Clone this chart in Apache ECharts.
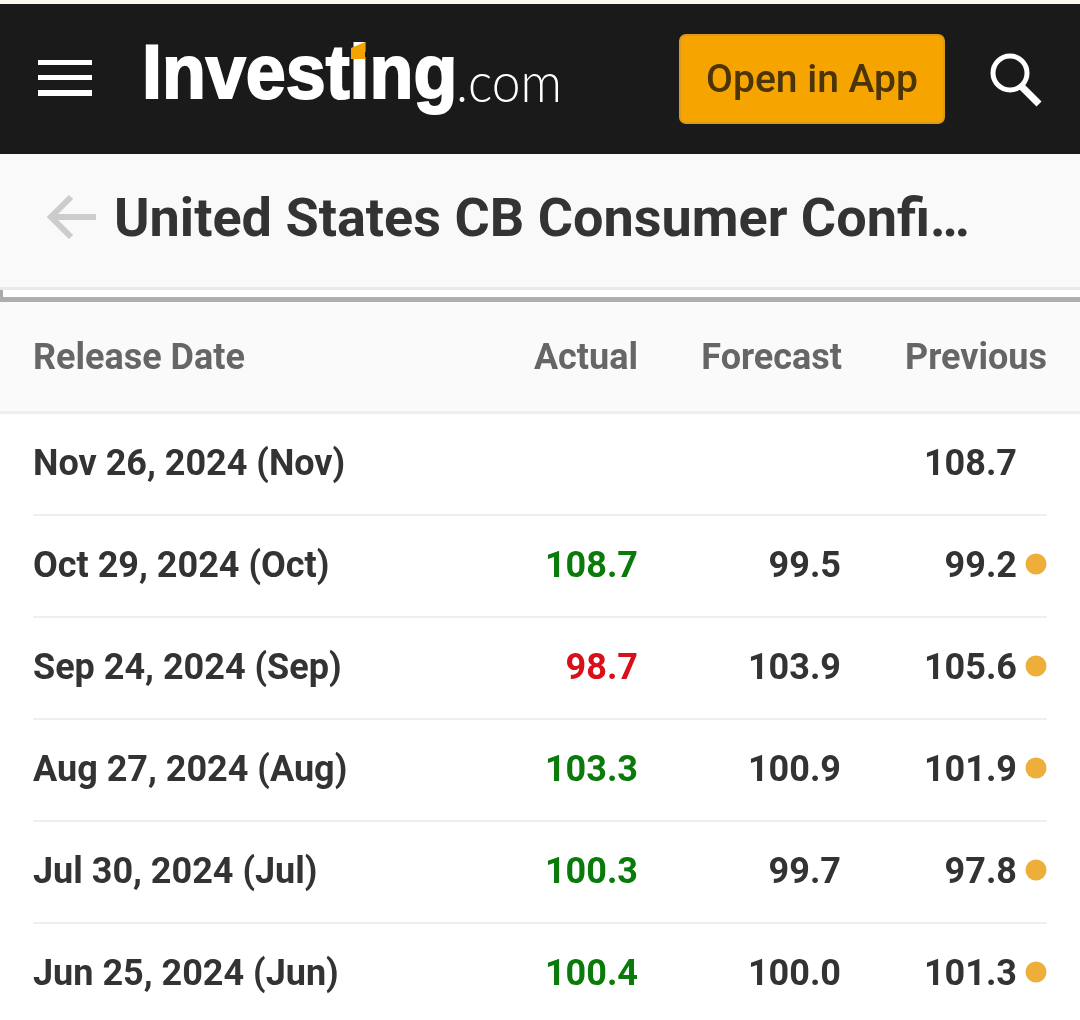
<!DOCTYPE html>
<html>
<head>
    <meta charset="utf-8" />
    <script src="https://cdn.jsdelivr.net/npm/echarts@6/dist/echarts.min.js"></script>
    <style>
        body { margin: 0; overflow: hidden; background: #fff; }
        #main { width: 1080px; height: 1020px; }
    </style>
</head>
<body>
    <div id="main"></div>
    <script type="text/javascript">
        var pageTitle = 'United States CB Consumer Confi…';
        var columnNames = ['Release Date', 'Actual', 'Forecast', 'Previous'];
        var releaseDates = ['Nov 26, 2024 (Nov)', 'Oct 29, 2024 (Oct)', 'Sep 24, 2024 (Sep)', 'Aug 27, 2024 (Aug)', 'Jul 30, 2024 (Jul)', 'Jun 25, 2024 (Jun)'];
        var actual = [null, 108.7, 98.7, 103.3, 100.3, 100.4];
        var forecast = [null, 99.5, 103.9, 100.9, 99.7, 100.0];
        var previous = [108.7, 99.2, 105.6, 101.9, 97.8, 101.3];
        var revised = [false, true, true, true, true, true];

        var FONT = 'Roboto';
        var GREEN = '#0a7a0a', RED = '#d9101a', DARK = '#333333', GREY = '#666666';

        // x axis runs in page pixels minus the grid's left edge
        var GRID_LEFT = 33;
        var COL_DATE = 0, COL_ACTUAL = 605, COL_FORECAST = 808, COL_PREVIOUS = 984, COL_DOT = 1003;

        function cellData(column, x, colorFn) {
            var cells = [];
            column.forEach(function (v, i) {
                if (v === null) return;
                cells.push({ value: [x, i], raw: v, label: { color: colorFn ? colorFn(i) : DARK } });
            });
            return cells;
        }

        function textSeries(column, x, align, fmt, colorFn) {
            return {
                type: 'scatter',
                symbolSize: 0,
                silent: true,
                clip: false,
                data: cellData(column, x, colorFn),
                label: {
                    show: true,
                    position: 'inside',
                    align: align,
                    verticalAlign: 'middle',
                    offset: [0, 2],
                    fontFamily: FONT,
                    fontWeight: 'bold',
                    fontSize: 36,
                    formatter: function (p) { return fmt(p.data.raw); }
                },
                itemStyle: { color: 'transparent', opacity: 1 }
            };
        }

        function oneDecimal(v) { return v.toFixed(1); }
        function actualColor(i) { return actual[i] >= forecast[i] ? GREEN : RED; }

        var dotSeries = {
            type: 'scatter',
            symbol: 'circle',
            symbolSize: 21,
            symbolOffset: [0, -2],
            silent: true,
            clip: false,
            itemStyle: { color: '#edae3a', opacity: 1 },
            data: revised.map(function (flag, i) {
                return flag ? [COL_DOT, i] : null;
            }).filter(Boolean)
        };

        function line(x1, y1, x2, y2, color, width) {
            return { type: 'line', shape: { x1: x1, y1: y1, x2: x2, y2: y2 }, style: { stroke: color, lineWidth: width } };
        }
        function block(x, y, w, h, color) {
            return { type: 'rect', shape: { x: x, y: y, width: w, height: h }, style: { fill: color } };
        }
        function label(x, y, text, size, color, weight, align) {
            return {
                type: 'text', x: x, y: y,
                style: { text: text, fontFamily: FONT, fontSize: size, fontWeight: weight, fill: color, align: align || 'left', verticalAlign: 'middle' }
            };
        }

        var chrome = [
            block(0, 0, 1080, 4, '#fdf8f2'),
            block(0, 4, 1080, 150, '#1a1a1a'),
            block(0, 154, 1080, 133, '#f9f9f9'),
            block(0, 287, 1080, 3, '#e9e9e9'),
            block(0, 290, 3, 8, '#aaaaaa'),
            block(0, 297, 1080, 5, '#aeaeae'),
            block(0, 302, 1080, 109, '#fafafa'),
            block(0, 411, 1080, 3, '#eeeeee'),
            // hamburger
            block(38, 60, 54, 5, '#ffffff'),
            block(38, 75, 54, 5, '#ffffff'),
            block(38, 90, 54, 6, '#ffffff'),
            // logo
            { type: 'text', x: 142, y: 77, scaleX: 0.945, style: { text: 'Investing', fontFamily: 'Liberation Sans', fontSize: 76, fontWeight: 'bold', fill: '#ffffff', stroke: '#ffffff', lineWidth: 2, verticalAlign: 'middle' } },
            { type: 'polygon', shape: { points: [[351, 48], [365, 42], [365, 59], [351, 59]] }, style: { fill: '#f5a300' } },
            { type: 'text', x: 456, y: 84, scaleX: 0.92, style: { text: '.com', fontFamily: 'Lato', fontSize: 56, fontWeight: 300, fill: '#ffffff', verticalAlign: 'middle' } },
            // button
            { type: 'rect', shape: { x: 680, y: 35, width: 264, height: 88, r: 6 }, style: { fill: '#f6a400', stroke: '#dd9a1a', lineWidth: 2 } },
            label(812, 82, 'Open in App', 39, '#4a3408', 500, 'center'),
            // search icon
            { type: 'circle', shape: { cx: 1010, cy: 73, r: 17 }, style: { fill: 'none', stroke: '#ffffff', lineWidth: 5 } },
            line(1021, 86, 1039, 104, '#ffffff', 7),
            // back arrow
            line(50, 217, 96, 217, '#cccccc', 6),
            { type: 'polyline', shape: { points: [[71, 197], [51, 217], [71, 237]] }, style: { fill: 'none', stroke: '#cccccc', lineWidth: 6 } },
            label(114, 222, pageTitle, 54, DARK, 'bold'),
            // table head
            label(33, 360, columnNames[0], 36, GREY, 'bold'),
            label(638, 360, columnNames[1], 36, GREY, 'bold', 'right'),
            label(842, 360, columnNames[2], 36, GREY, 'bold', 'right'),
            label(1047, 360, columnNames[3], 36, GREY, 'bold', 'right')
        ];

        var chart = echarts.init(document.getElementById('main'), null, { renderer: 'canvas' });
        chart.setOption({
            animation: false,
            backgroundColor: '#ffffff',
            grid: { left: GRID_LEFT, top: 413, width: 1014, height: 612, outerBoundsMode: 'none' },
            xAxis: { type: 'value', min: 0, max: 1014, show: false, splitLine: { show: false } },
            yAxis: {
                type: 'category',
                inverse: true,
                data: releaseDates,
                axisLine: { show: false },
                axisTick: { show: false },
                axisLabel: { show: false },
                splitLine: { show: true, lineStyle: { color: '#eeeeee', width: 2 } }
            },
            graphic: chrome,
            series: [
                textSeries(releaseDates, COL_DATE, 'left', function (v) { return v; }),
                textSeries(actual, COL_ACTUAL, 'right', oneDecimal, actualColor),
                textSeries(forecast, COL_FORECAST, 'right', oneDecimal),
                textSeries(previous, COL_PREVIOUS, 'right', oneDecimal),
                dotSeries
            ]
        });
    </script>
</body>
</html>
